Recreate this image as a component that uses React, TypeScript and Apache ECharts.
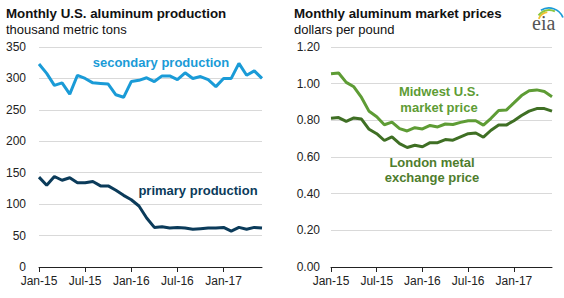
import React, { useEffect, useRef } from "react";
import * as echarts from "echarts";

const months = [
  "Jan-15","Feb-15","Mar-15","Apr-15","May-15","Jun-15","Jul-15","Aug-15","Sep-15","Oct-15","Nov-15","Dec-15",
  "Jan-16","Feb-16","Mar-16","Apr-16","May-16","Jun-16","Jul-16","Aug-16","Sep-16","Oct-16","Nov-16","Dec-16",
  "Jan-17","Feb-17","Mar-17","Apr-17","May-17","Jun-17",
];

const secondaryProduction = [
  323, 308, 289, 293, 275, 305, 300, 293, 292, 291, 274, 270,
  295, 297, 301, 295, 304, 304, 298, 309, 300, 303, 298, 287,
  300, 300, 324, 305, 312, 300,
];

const primaryProduction = [
  143, 130, 144, 138, 142, 134, 134, 136, 129, 129, 122, 114,
  107, 97, 78, 63, 64, 62, 63, 62, 60, 61, 62, 62,
  63, 57, 63, 60, 63, 62,
];

const midwestPrice = [
  1.054, 1.058, 1.007, 0.983, 0.925, 0.849, 0.82, 0.776, 0.79, 0.755, 0.742, 0.76,
  0.753, 0.772, 0.764, 0.78, 0.777, 0.789, 0.798, 0.798, 0.774, 0.811, 0.854, 0.856,
  0.895, 0.935, 0.961, 0.966, 0.957, 0.929,
];

const londonPrice = [
  0.811, 0.815, 0.794, 0.813, 0.807, 0.751, 0.727, 0.69, 0.71, 0.673, 0.652, 0.664,
  0.656, 0.678, 0.678, 0.695, 0.692, 0.71, 0.727, 0.731, 0.708, 0.746, 0.774, 0.774,
  0.798, 0.826, 0.85, 0.864, 0.864, 0.85,
];

const FONT = "'Liberation Sans', Arial, sans-serif";
const BLUE = "#1a9bd7";
const NAVY = "#0b3b5a";
const LIGHT_GREEN = "#5e9c35";
const DARK_GREEN = "#3f6f24";

const showEvery6 = (i: number) => i % 6 === 0;

export default function App() {
  const ref = useRef<HTMLDivElement>(null);
  useEffect(() => {
    if (!ref.current) return;
    const chart = echarts.init(ref.current, undefined, { renderer: "svg" });
    const xAxisBase = {
      type: "category" as const,
      data: months,
      boundaryGap: false,
      axisLine: { show: true, lineStyle: { color: "#222", width: 1 } },
      axisTick: { show: true, interval: (i: number) => showEvery6(i), length: 5, lineStyle: { color: "#222" } },
      axisLabel: {
        interval: (i: number) => showEvery6(i),
        color: "#222",
        fontFamily: FONT,
        fontSize: 12,
        margin: 8,
      },
      splitLine: { show: false },
    };
    const yAxisBase = {
      type: "value" as const,
      axisLine: { show: false },
      axisTick: { show: false },
      splitLine: { show: true, lineStyle: { color: "#d9d9d9", width: 1 } },
    };
    chart.setOption({
      animation: false,
      backgroundColor: "#ffffff",
      grid: [
        { left: 39, right: 302, top: 47, bottom: 31, containLabel: false },
        { left: 331, right: 12, top: 47, bottom: 31, containLabel: false },
      ],
      xAxis: [
        { ...xAxisBase, gridIndex: 0 },
        { ...xAxisBase, gridIndex: 1 },
      ],
      yAxis: [
        {
          ...yAxisBase,
          gridIndex: 0,
          min: 0,
          max: 350,
          interval: 50,
          axisLabel: { color: "#222", fontFamily: FONT, fontSize: 12, margin: 13 },
        },
        {
          ...yAxisBase,
          gridIndex: 1,
          min: 0,
          max: 1.2,
          interval: 0.2,
          axisLabel: {
            color: "#222",
            fontFamily: FONT,
            fontSize: 12,
            margin: 11,
            formatter: (v: number) => v.toFixed(2),
          },
        },
      ],
      series: [
        {
          name: "secondary production",
          type: "line",
          xAxisIndex: 0,
          yAxisIndex: 0,
          data: secondaryProduction,
          showSymbol: false,
          lineStyle: { color: BLUE, width: 3 },
          itemStyle: { color: BLUE },
        },
        {
          name: "primary production",
          type: "line",
          xAxisIndex: 0,
          yAxisIndex: 0,
          data: primaryProduction,
          showSymbol: false,
          lineStyle: { color: NAVY, width: 3 },
          itemStyle: { color: NAVY },
        },
        {
          name: "Midwest U.S. market price",
          type: "line",
          xAxisIndex: 1,
          yAxisIndex: 1,
          data: midwestPrice,
          showSymbol: false,
          lineStyle: { color: LIGHT_GREEN, width: 3 },
          itemStyle: { color: LIGHT_GREEN },
        },
        {
          name: "London metal exchange price",
          type: "line",
          xAxisIndex: 1,
          yAxisIndex: 1,
          data: londonPrice,
          showSymbol: false,
          lineStyle: { color: DARK_GREEN, width: 3 },
          itemStyle: { color: DARK_GREEN },
        },
      ],
      graphic: [
        {
          type: "text",
          left: 6,
          top: 7,
          style: { text: "Monthly U.S. aluminum production", fill: "#111", font: `bold 13.3px ${FONT}` },
        },
        {
          type: "text",
          left: 6,
          top: 23,
          style: { text: "thousand metric tons", fill: "#111", font: `13px ${FONT}` },
        },
        {
          type: "text",
          left: 294,
          top: 7,
          style: { text: "Monthly aluminum market prices", fill: "#111", font: `bold 13.3px ${FONT}` },
        },
        {
          type: "text",
          left: 294,
          top: 23,
          style: { text: "dollars per pound", fill: "#111", font: `13px ${FONT}` },
        },
        {
          type: "text",
          x: 161,
          y: 62,
          style: {
            text: "secondary production",
            fill: BLUE,
            font: `bold 13px ${FONT}`,
            align: "center",
            verticalAlign: "middle",
          },
        },
        {
          type: "text",
          x: 198,
          y: 190,
          style: {
            text: "primary production",
            fill: NAVY,
            font: `bold 13px ${FONT}`,
            align: "center",
            verticalAlign: "middle",
          },
        },
        {
          type: "text",
          x: 439,
          y: 99,
          style: {
            text: "Midwest U.S.\nmarket price",
            fill: LIGHT_GREEN,
            font: `bold 13px ${FONT}`,
            align: "center",
            verticalAlign: "middle",
            lineHeight: 16,
          },
        },
        {
          type: "text",
          x: 432,
          y: 170,
          style: {
            text: "London metal\nexchange price",
            fill: "#4e7d2d",
            font: `bold 13px ${FONT}`,
            align: "center",
            verticalAlign: "middle",
            lineHeight: 15,
          },
        },
        {
          type: "arc",
          shape: { cx: 549, cy: 23, r: 11, startAngle: Math.PI * 1.12, endAngle: Math.PI * 1.45 },
          style: { stroke: "#f2c12e", lineWidth: 1.8, fill: "none" },
        },
        {
          type: "arc",
          shape: { cx: 549, cy: 23, r: 13, startAngle: Math.PI * 1.2, endAngle: Math.PI * 1.65 },
          style: { stroke: "#8cc63f", lineWidth: 1.8, fill: "none" },
        },
        {
          type: "arc",
          shape: { cx: 549, cy: 23, r: 15, startAngle: Math.PI * 1.32, endAngle: Math.PI * 1.88 },
          style: { stroke: "#1a9bd7", lineWidth: 1.8, fill: "none" },
        },
        {
          type: "text",
          left: 532,
          top: 13,
          style: { text: "eia", fill: "#555", font: `20px 'Liberation Serif', 'DejaVu Serif', serif` },
        },
      ],
    });
    return () => chart.dispose();
  }, []);
  return (
    <div
      ref={ref}
      style={{ position: "absolute", left: 0, top: 0, width: 564, height: 298, background: "#fff" }}
    />
  );
}
